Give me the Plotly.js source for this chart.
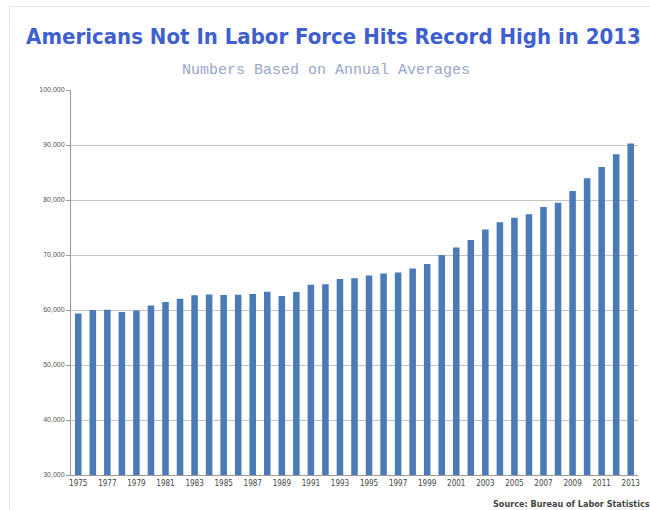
<!DOCTYPE html>
<html>
<head>
<meta charset="utf-8">
<script src="https://cdn.plot.ly/plotly-3.0.1.min.js"></script>
<style>
html,body{margin:0;padding:0;background:#fff;}
#chart{width:650px;height:510px;position:relative;}
#frame{position:absolute;left:9px;top:6px;width:660px;height:520px;border:1px solid #e4e4e4;pointer-events:none;}
</style>
</head>
<body>
<div id="chart"></div>
<div id="frame"></div>
<script>
const years = ["1975","1976","1977","1978","1979","1980","1981","1982","1983","1984",
  "1985","1986","1987","1988","1989","1990","1991","1992","1993","1994",
  "1995","1996","1997","1998","1999","2000","2001","2002","2003","2004",
  "2005","2006","2007","2008","2009","2010","2011","2012","2013"];
const notInLaborForce = [59377,59991,60025,59659,59900,60806,61460,62067,62665,62839,
  62744,62752,62888,63324,62523,63262,64578,64700,65638,65758,
  66280,66647,66837,67547,68385,69994,71359,72707,74658,75956,
  76762,77387,78743,79501,81659,83941,86001,88310,90290];
const tickYears = ["1975","1977","1979","1981","1983","1985","1987","1989","1991","1993",
  "1995","1997","1999","2001","2003","2005","2007","2009","2011","2013"];
const titleText = "Americans Not In Labor Force Hits Record High in 2013";
const subtitleText = "Numbers Based on Annual Averages";
const sourceText = "Source: Bureau of Labor Statistics";

const narrow = "'DejaVu Sans Condensed', 'Liberation Sans Narrow', 'Roboto Condensed', 'Arial Narrow', Roboto, sans-serif";
const sans = "'Liberation Sans', Arial, 'DejaVu Sans', sans-serif";

const trace = {
  type: "bar",
  x: years,
  y: notInLaborForce,
  marker: {color: "#4a7bb7"},
  hoverinfo: "x+y"
};

const layout = {
  width: 650, height: 510,
  margin: {l: 71, r: 12, t: 90, b: 35},
  paper_bgcolor: "#fff", plot_bgcolor: "#fff",
  bargap: 0.55,
  showlegend: false,
  title: {
    text: "<b>" + titleText + "</b>",
    x: 0.513, xanchor: "center",
    y: 0.928, yanchor: "middle",
    font: {family: narrow, size: 22, color: "#3f5fcf"}
  },
  xaxis: {
    type: "category",
    tickmode: "array",
    tickvals: tickYears,
    ticktext: tickYears,
    tickfont: {family: narrow, size: 8, color: "#444"},
    showline: true, linecolor: "#9a9a9a", linewidth: 1,
    ticks: "", showgrid: false, tickangle: 0
  },
  yaxis: {
    range: [30000, 100000],
    dtick: 10000,
    tickformat: ",",
    tickfont: {family: sans, size: 7, color: "#555"},
    showline: true, linecolor: "#9a9a9a", linewidth: 1,
    ticks: "outside", ticklen: 4, tickcolor: "#9a9a9a",
    gridcolor: "#c4c4c4", gridwidth: 1,
    zeroline: false, fixedrange: true
  },
  annotations: [
    {text: subtitleText, xref: "paper", yref: "paper", x: 0.45, y: 1.05,
     xanchor: "center", yanchor: "middle", showarrow: false,
     font: {family: "'Courier New', 'Liberation Mono', monospace", size: 15, color: "#98a6c8"}},
    {text: "<b>" + sourceText + "</b>", xref: "paper", yref: "paper", x: 1.025, y: -0.075,
     xanchor: "right", yanchor: "middle", showarrow: false,
     font: {family: narrow, size: 9, color: "#444"}}
  ]
};

Plotly.newPlot("chart", [trace], layout, {displayModeBar: false, staticPlot: true});
</script>
</body>
</html>
